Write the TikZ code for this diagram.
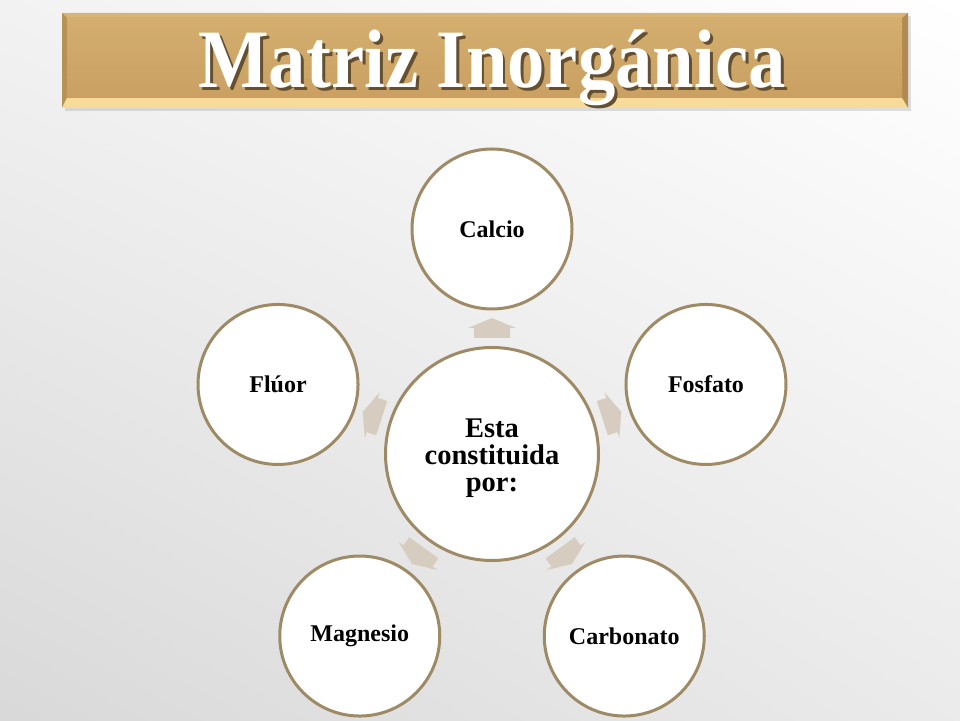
\documentclass[tikz,border=0pt]{standalone}
\usepackage{fontspec}
\setmainfont{Liberation Serif}
\usetikzlibrary{calc,shadings}
\definecolor{ring}{HTML}{9E8B66}
\definecolor{arrowc}{HTML}{D6CCBF}
\definecolor{goldface}{HTML}{C9A062}
\definecolor{goldtop}{HTML}{D9B574}
\definecolor{goldleft}{HTML}{B89156}
\definecolor{goldright}{HTML}{B08A50}
\definecolor{goldbot}{HTML}{F8DB98}
\newcommand{\titlestr}{\scalebox{0.9}[1]{Matriz Inorgánica}}
\tikzset{
  leaf/.style={circle, draw=ring, line width=3pt, fill=white, minimum size=160pt, inner sep=0pt,
    font=\fontsize{24}{26}\selectfont\bfseries},
  hub/.style={circle, draw=ring, line width=3pt, fill=white, minimum size=213pt, inner sep=0pt},
  hubtext/.style={align=center, inner sep=0pt, font=\fontsize{28.5}{27}\selectfont\bfseries},
  arrowfill/.style={fill=arrowc},
  titletext/.style={text=white, anchor=base, inner sep=0pt,
    font=\fontsize{83}{90}\selectfont\bfseries}
}
\begin{document}
\begin{tikzpicture}[x=1pt,y=1pt]
\useasboundingbox (0,0) rectangle (960,720);
\shade[upper left=black!5, upper right=white, lower left=black!15, lower right=black!8] (0,0) rectangle (960,720);
% banner
\fill[black!40, opacity=0.3] (65,609) rectangle (911,704);
\fill[goldface] (62,612) rectangle (908,707);
\fill[goldtop] (62,707) -- (908,707) -- (902,702) -- (67,702) -- cycle;
\fill[goldleft] (62,612) -- (62,707) -- (67,702) -- (67,622) -- cycle;
\fill[goldright] (908,612) -- (908,707) -- (902,702) -- (902,622) -- cycle;
\fill[goldbot] (62,612) -- (908,612) -- (902,622) -- (67,622) -- cycle;
\shade[top color=goldtop!70!goldface, bottom color=goldface] (67,622) rectangle (902,702);
\node[titletext] (title) at (492,632) {\rlap{\kern3pt\raisebox{-3pt}{\color{black!50!goldface}\titlestr}}\titlestr};
% circles
\node[hub] (c) at (492,266) {};
\node[hubtext] (ctext) at ($(c)+(0,-4)$) {Esta\\constituida\\por:};
\node[leaf] (calcio) at ($(c)+(90:225)$) {Calcio};
\node[leaf] (fosfato) at ($(c)+(18:225)$) {Fosfato};
\node[leaf] (carbonato) at ($(c)+(-54:225)$) {Carbonato};
\node[leaf] (magnesio) at ($(c)+(-126:225)$) {Magnesio};
\node[leaf] (fluor) at ($(c)+(162:225)$) {Flúor};
% arrows
\foreach \n/\a in {calcio/90, fosfato/18, carbonato/-54, magnesio/-126, fluor/162}{
  \begin{scope}[shift={($(c)!126pt!(\n)$)}, rotate=\a]
    \fill[arrowfill] (-10,-18) -- (0,-18) -- (0,-24) -- (10,0) -- (0,24) -- (0,18) -- (-10,18) -- cycle;
  \end{scope}
}
\end{tikzpicture}
\end{document}
